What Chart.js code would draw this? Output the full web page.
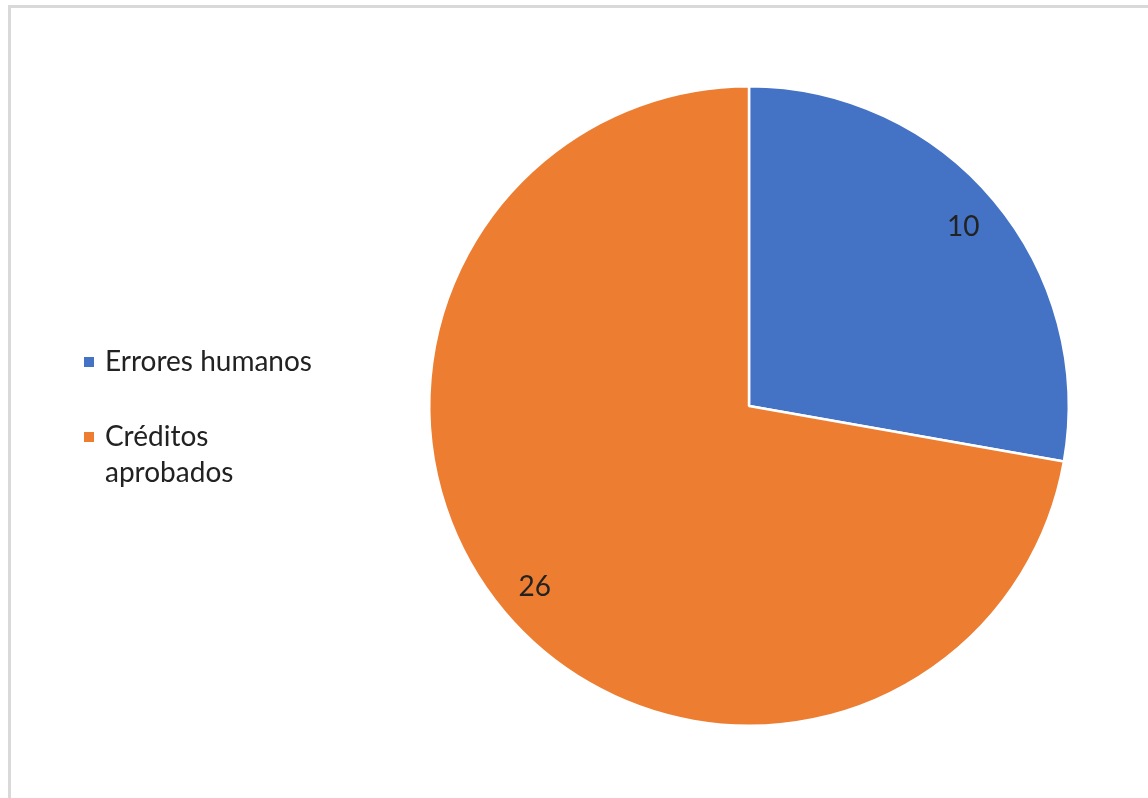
<!DOCTYPE html>
<html>
<head>
<meta charset="utf-8">
<script src="https://cdn.jsdelivr.net/npm/chart.js@4.4.1/dist/chart.umd.min.js"></script>
<style>
  html, body { margin: 0; padding: 0; background: #fff; overflow: hidden; }
  #marco {
    position: absolute; left: 8px; top: 5px; width: 1200px; height: 900px;
    border: 3px solid #d9d9d9; box-sizing: border-box;
  }
  #wrap { position: absolute; left: 0; top: 0; width: 1148px; height: 798px; }
</style>
</head>
<body>
<div id="marco"></div>
<div id="wrap"><canvas id="grafica"></canvas></div>
<script>
// Datos del gráfico
const categorias = ['Errores humanos', 'Créditos aprobados'];
const valores = [10, 26];
const colores = ['#4472C4', '#ED7D31'];
// líneas de la leyenda (el segundo rótulo va partido en dos)
const lineasLeyenda = [['Errores humanos'], ['Créditos', 'aprobados']];

const fuente = 'Lato, "Open Sans", sans-serif';
const colorTexto = '#222222';

// Etiquetas de valor dentro de cada porción
const etiquetasValor = {
  id: 'etiquetasValor',
  afterDatasetsDraw(chart) {
    const ctx = chart.ctx;
    const meta = chart.getDatasetMeta(0);
    ctx.save();
    ctx.font = '28px ' + fuente;
    ctx.fillStyle = colorTexto;
    ctx.textAlign = 'center';
    ctx.textBaseline = 'middle';
    meta.data.forEach((arc, i) => {
      const p = arc.getProps(['x', 'y', 'startAngle', 'endAngle', 'outerRadius'], true);
      const ang = (p.startAngle + p.endAngle) / 2;
      const d = p.outerRadius * 0.875;
      ctx.fillText(String(valores[i]), p.x + Math.cos(ang) * d, p.y + Math.sin(ang) * d + 1);
    });
    ctx.restore();
  }
};

// Leyenda a la izquierda con texto en varias líneas
const leyenda = {
  id: 'leyenda',
  afterDraw(chart) {
    const ctx = chart.ctx;
    ctx.save();
    ctx.font = '28px ' + fuente;
    ctx.textBaseline = 'middle';
    const posY = [362, 437];
    lineasLeyenda.forEach((lineas, i) => {
      ctx.fillStyle = colores[i];
      ctx.fillRect(84, posY[i] - 5, 10, 10);
      ctx.fillStyle = colorTexto;
      lineas.forEach((t, j) => ctx.fillText(t, 105, posY[i] + j * 36));
    });
    ctx.restore();
  }
};

new Chart(document.getElementById('grafica'), {
  type: 'pie',
  data: {
    labels: categorias,
    datasets: [{
      data: valores,
      backgroundColor: colores,
      borderColor: '#ffffff',
      borderWidth: 2.5
    }]
  },
  options: {
    responsive: true,
    maintainAspectRatio: false,
    animation: false,
    layout: { padding: { left: 428, right: 78, top: 85, bottom: 71 } },
    plugins: {
      legend: { display: false },
      tooltip: { enabled: false }
    }
  },
  plugins: [etiquetasValor, leyenda]
});
</script>
</body>
</html>
